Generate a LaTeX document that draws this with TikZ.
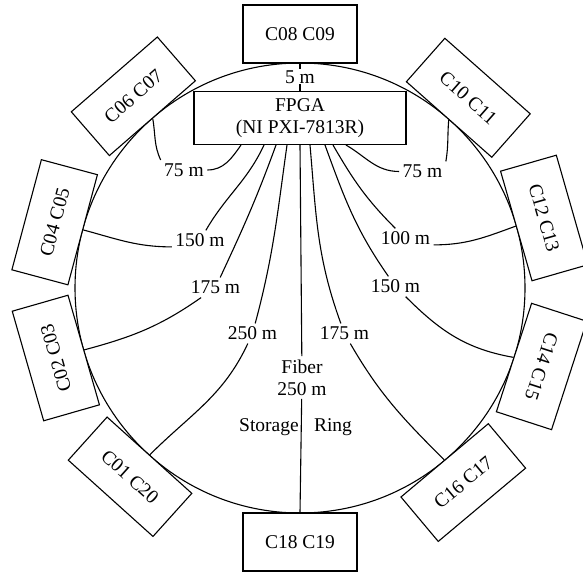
\documentclass[tikz,border=0pt]{standalone}
\usepackage{fontspec}
\setmainfont{Liberation Serif}

\begin{document}
\begin{tikzpicture}[x=1pt, y=1pt, line width=1.1pt,
  font=\fontsize{19.5}{22}\selectfont,
  cbox/.style={draw, fill=white, minimum width=114pt, minimum height=58pt, inner sep=0pt},
  len/.style={inner sep=3pt}]
  \useasboundingbox (0,0) rectangle (583,571);
  \draw (300,283) circle (225pt);
  % crates round the ring
  \begin{scope}[shift={(300,283)}]
    \coordinate (top) at (90:225pt);
    \node[cbox] (c0809) at (90:254pt) {C08 C09};
    \node[cbox, rotate=41] (c0607) at (131:254pt) {C06 C07};
    \node[cbox, rotate=75] (c0405) at (165:254pt) {C04 C05};
    \node[cbox, rotate=106] (c0203) at (196:254pt) {C02 C03};
    \node[cbox, rotate=-42] (c0120) at (228:254pt) {C01 C20};
    \node[cbox] (c1819) at (270:254pt) {C18 C19};
    \node[cbox, rotate=40] (c1617) at (310:254pt) {C16 C17};
    \node[cbox, rotate=252] (c1415) at (342:254pt) {C14 C15};
    \node[cbox, rotate=-74] (c1213) at (16:254pt) {C12 C13};
    \node[cbox, rotate=-41.5] (c1011) at (48.5:254pt) {C10 C11};
  \end{scope}
  \node[draw, align=center, minimum width=212pt, minimum height=53pt, inner sep=0pt] (fpga) at (300,453) {FPGA\\(NI PXI-7813R)};
  \draw (top) -- node[fill=white, inner sep=1pt] (l5) {5 m} (fpga.north);
  % fiber lengths
  \node[len] (l75a) at (184,401) {75 m};
  \node[len] (l150a) at (200,330.5) {150 m};
  \node[len] (l175a) at (215.5,283.5) {175 m};
  \node[len] (l250a) at (252.5,237.5) {250 m};
  \node[len, align=center] (fiber) at (302,193.5) {Fiber\\250 m};
  \node[len] (l175b) at (344.5,237.5) {175 m};
  \node[len] (l150b) at (395.5,284.5) {150 m};
  \node[len] (l100) at (405.5,332.5) {100 m};
  \node[len] (l75b) at (422.5,399.5) {75 m};
  \node (stor) at (269,144) {Storage};
  \node (ringtxt) at (333,144) {Ring};
  \draw ([xshift=-59pt]fpga.south) to[out=235,in=0] (l75a) (l75a.north west) to[out=115,in=-80] (c0607.south);
  \draw ([xshift=-36pt]fpga.south) to[out=245,in=60] (l150a) (l150a.base west) to[out=180,in=-15] (c0405.south);
  \draw ([xshift=-24pt]fpga.south) to[out=250,in=65] (l175a) to[out=215,in=15] (c0203.south);
  \draw ([xshift=-13pt]fpga.south) to[out=262,in=75] (l250a) to[out=245,in=45] (c0120.north);
  \draw (fpga.south) -- (fiber) -- (c1819.north);
  \draw ([xshift=10pt]fpga.south) to[out=-85,in=110] (l175b) to[out=-60,in=135] (c1617.north);
  \draw ([xshift=25pt]fpga.south) to[out=-70,in=125] (l150b) to[out=-45,in=170] (c1415.south);
  \draw ([xshift=33pt]fpga.south) to[out=-60,in=135] (l100) (l100.base east) to[out=0,in=200] (c1213.south);
  \draw ([xshift=46pt]fpga.south) to[out=-30,in=180] (l75b) (l75b.north east) to[out=80,in=-95] (c1011.south);
\end{tikzpicture}
\end{document}
